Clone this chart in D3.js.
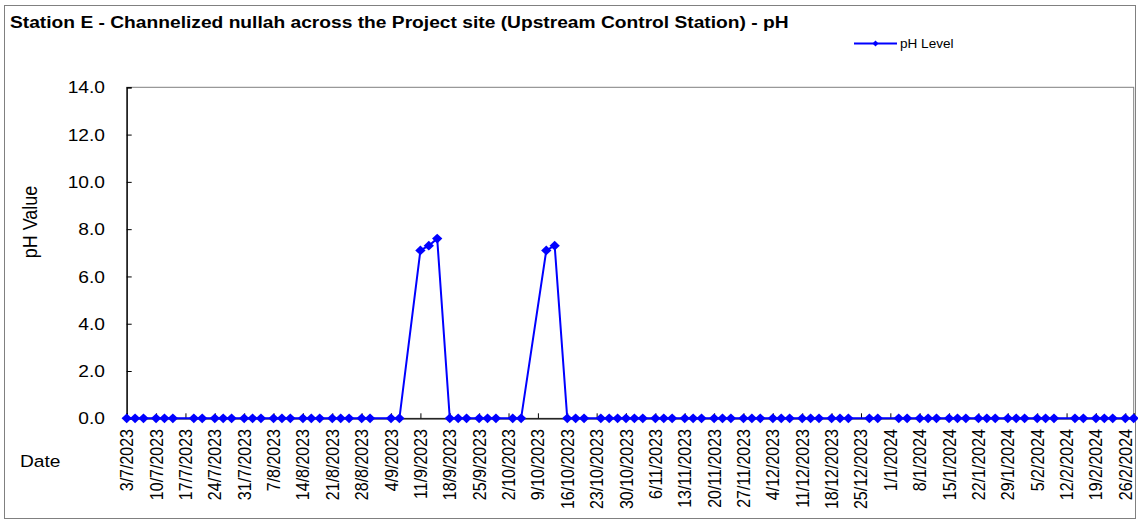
<!DOCTYPE html>
<html><head><meta charset="utf-8">
<script src="https://cdn.jsdelivr.net/npm/d3@7"></script>
<style>body{margin:0;background:#fff}svg text{font-family:Arial,"Liberation Sans",sans-serif;fill:#000}</style>
</head><body>
<svg id="c" width="1138" height="521"></svg>
<script>
const sampleDates = [
 "3/7/2023","5/7/2023","7/7/2023","10/7/2023","12/7/2023","14/7/2023","19/7/2023","21/7/2023","24/7/2023","26/7/2023","28/7/2023","31/7/2023",
 "2/8/2023","4/8/2023","7/8/2023","9/8/2023","11/8/2023","14/8/2023","16/8/2023","18/8/2023","21/8/2023","23/8/2023","25/8/2023","28/8/2023","30/8/2023",
 "4/9/2023","6/9/2023","11/9/2023","13/9/2023","15/9/2023","18/9/2023","20/9/2023","22/9/2023","25/9/2023","27/9/2023","29/9/2023",
 "3/10/2023","5/10/2023","11/10/2023","13/10/2023","16/10/2023","18/10/2023","20/10/2023","24/10/2023","26/10/2023","28/10/2023","30/10/2023",
 "1/11/2023","3/11/2023","6/11/2023","8/11/2023","10/11/2023","13/11/2023","15/11/2023","17/11/2023","20/11/2023","22/11/2023","24/11/2023","27/11/2023","29/11/2023",
 "1/12/2023","4/12/2023","6/12/2023","8/12/2023","11/12/2023","13/12/2023","15/12/2023","18/12/2023","20/12/2023","22/12/2023","27/12/2023","29/12/2023",
 "3/1/2024","5/1/2024","8/1/2024","10/1/2024","12/1/2024","15/1/2024","17/1/2024","19/1/2024","22/1/2024","24/1/2024","26/1/2024","29/1/2024","31/1/2024",
 "2/2/2024","5/2/2024","7/2/2024","9/2/2024","14/2/2024","16/2/2024","19/2/2024","21/2/2024","23/2/2024","26/2/2024","28/2/2024"
];
const phValues = [
 0,0,0,0,0,0,0,0,0,0,0,0,
 0,0,0,0,0,0,0,0,0,0,0,0,0,
 0,0,7.1,7.3,7.6,0,0,0,0,0,0,
 0,0,7.1,7.3,0,0,0,0,0,0,0,
 0,0,0,0,0,0,0,0,0,0,0,0,0,
 0,0,0,0,0,0,0,0,0,0,0,0,
 0,0,0,0,0,0,0,0,0,0,0,0,0,
 0,0,0,0,0,0,0,0,0,0,0
];
const xTickLabels = ["3/7/2023","10/7/2023","17/7/2023","24/7/2023","31/7/2023","7/8/2023","14/8/2023","21/8/2023","28/8/2023","4/9/2023","11/9/2023","18/9/2023","25/9/2023","2/10/2023","9/10/2023","16/10/2023","23/10/2023","30/10/2023","6/11/2023","13/11/2023","20/11/2023","27/11/2023","4/12/2023","11/12/2023","18/12/2023","25/12/2023","1/1/2024","8/1/2024","15/1/2024","22/1/2024","29/1/2024","5/2/2024","12/2/2024","19/2/2024","26/2/2024"];
const yTicks = [0,2,4,6,8,10,12,14];
const xDomain = ["3/7/2023","28/2/2024"];
const seriesName = "pH Level";

const parse = d3.timeParse("%-d/%-m/%Y");
const data = sampleDates.map((d,i)=>({date:parse(d), v:phValues[i]}));
const svg = d3.select("#c");
const L=126.7, R=1133.7, T=87.3, B=418.3;
const SX = 1.13; // horizontal text stretch seen in the reference
const x = d3.scaleTime().domain(xDomain.map(parse)).range([L,R]);
const y = d3.scaleLinear().domain([0,14]).range([B,T]);

// outer border
svg.append("rect").attr("x",4.5).attr("y",5.5).attr("width",1131).attr("height",513)
  .attr("fill","none").attr("stroke","#808080").attr("stroke-width",1);
// plot area border
svg.append("rect").attr("x",L).attr("y",T).attr("width",R-L).attr("height",B-T)
  .attr("fill","none").attr("stroke","#808080").attr("stroke-width",1);

// y axis
const ya = svg.append("g").attr("transform",`translate(${L},0)`)
  .call(d3.axisRight(y).tickValues(yTicks).tickSize(5).tickFormat(""));
ya.select(".domain").attr("stroke","#000").attr("stroke-width",1.3);
ya.selectAll(".tick line").attr("stroke","#000");
svg.append("g").selectAll("text").data(yTicks).join("text")
  .attr("transform",d=>`translate(105,${y(d)}) scale(${SX},1)`).attr("dy","0.36em").attr("text-anchor","end")
  .attr("font-size",17).text(d=>d.toFixed(1));

// x axis
const xt = xTickLabels.map(parse);
const xa = svg.append("g").attr("transform",`translate(0,${B})`)
  .call(d3.axisTop(x).tickValues(xt).tickSize(5).tickFormat(""));
xa.select(".domain").attr("stroke","#000").attr("stroke-width",1.3);
xa.selectAll(".tick line").attr("stroke","#000");
svg.append("g").selectAll("text").data(xt).join("text")
  .attr("transform",d=>`translate(${x(d)},429) scale(${SX},1) rotate(-90)`).attr("dy","0.36em")
  .attr("text-anchor","end").attr("font-size",16)
  .text((d,i)=>xTickLabels[i]);

// line + markers
const line = d3.line().x(d=>x(d.date)).y(d=>y(d.v));
svg.append("path").datum(data).attr("d",line).attr("fill","none")
  .attr("stroke","#0000FF").attr("stroke-width",2);
svg.append("g").selectAll("path").data(data).join("path")
  .attr("transform",d=>`translate(${x(d.date)},${y(d.v)}) scale(1.05,1) rotate(45)`)
  .attr("d",d3.symbol().type(d3.symbolSquare).size(48)()).attr("fill","#0000FF");

// titles
svg.append("text").attr("transform",`translate(10,28) scale(${SX},1)`).attr("font-size",17).attr("font-weight","bold")
  .text("Station E - Channelized nullah across the Project site (Upstream Control Station) - pH");
svg.append("text").attr("transform",`translate(37,222) scale(${SX},1) rotate(-90)`).attr("text-anchor","middle")
  .attr("font-size",18).text("pH Value");
svg.append("text").attr("transform",`translate(20,467) scale(${SX},1)`).attr("font-size",17).text("Date");

// legend
svg.append("line").attr("x1",854).attr("x2",897).attr("y1",43.5).attr("y2",43.5)
  .attr("stroke","#0000FF").attr("stroke-width",2);
svg.append("path").attr("transform","translate(875.5,43.5) rotate(45)")
  .attr("d",d3.symbol().type(d3.symbolSquare).size(18)()).attr("fill","#0000FF");
svg.append("text").attr("transform",`translate(900,47.5) scale(${SX},1)`).attr("font-size",12).text(seriesName);
</script>
</body></html>
